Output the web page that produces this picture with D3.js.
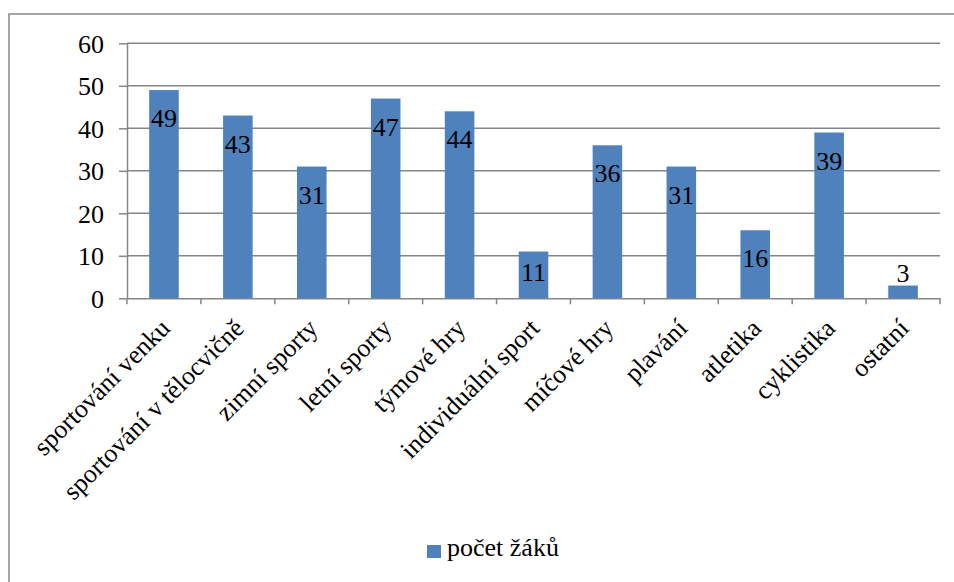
<!DOCTYPE html>
<html><head><meta charset="utf-8">
<script src="https://cdn.jsdelivr.net/npm/d3@7/dist/d3.min.js"></script>
<style>body{margin:0;background:#fff}</style>
</head><body><svg id="c" width="954" height="582"></svg>
<script>
const categories = ["sportování venku","sportování v tělocvičně","zimní sporty","letní sporty","týmové hry","individuální sport","míčové hry","plavání","atletika","cyklistika","ostatní"];
const values = [49,43,31,47,44,11,36,31,16,39,3];
const yTicks = [0,10,20,30,40,50,60];
const seriesName = "počet žáků";

const FONT = '"Liberation Serif", "Times New Roman", Tinos, Times';
// warm up the font (forces the local font to be resolved before drawing)
(function(){
  const cv = document.createElement("canvas").getContext("2d");
  cv.font = '26px "Liberation Serif"';
  cv.measureText("počet žáků 0123 sportování");
})();

function draw(){
const svg = d3.select("#c");
svg.selectAll("*").remove();
const W = 954, H = 582;
const pLeft = 127, pRight = 940, pTop = 43.3, pBottom = 298.3;
const barColor = "#4F81BD", gridColor = "#868686";

svg.append("rect").attr("x",9).attr("y",14).attr("width",W).attr("height",H)
  .attr("fill","none").attr("stroke",gridColor).attr("stroke-width",1.5);

const xb = d3.scaleBand().domain(categories).range([pLeft,pRight]);
const y = d3.scaleLinear().domain([0,60]).range([pBottom,pTop]);

svg.append("g").selectAll("line").data(yTicks.filter(t=>t>0)).join("line")
  .attr("x1",pLeft).attr("x2",pRight).attr("y1",d=>y(d)).attr("y2",d=>y(d))
  .attr("stroke",gridColor).attr("stroke-width",1.5);

const yAx = svg.append("g").attr("transform",`translate(${pLeft},0)`)
  .call(d3.axisLeft(y).tickValues(yTicks).tickSize(8).tickPadding(15).tickSizeOuter(0));
yAx.attr("font-family",FONT).attr("font-size",26);
yAx.select(".domain").attr("stroke",gridColor).attr("stroke-width",1.5);
yAx.selectAll(".tick line").attr("stroke",gridColor).attr("stroke-width",1.5);
yAx.selectAll(".tick text").attr("font-size",26).attr("dy","0.34em").attr("font-family",FONT).attr("fill","#000");

svg.append("g").selectAll("rect").data(values).join("rect")
  .attr("x",(d,i)=>xb(categories[i])+xb.bandwidth()*0.3)
  .attr("width",xb.bandwidth()*0.4)
  .attr("y",d=>y(d)).attr("height",d=>pBottom-y(d))
  .attr("fill",barColor);

const xAx = svg.append("g").attr("transform",`translate(0,${pBottom})`)
  .call(d3.axisBottom(xb).tickSize(0).tickFormat(""));
xAx.select(".domain").attr("stroke",gridColor).attr("stroke-width",1.5);
const tickPos = categories.map(c=>xb(c)).concat([pRight]);
svg.append("g").selectAll("line").data(tickPos).join("line")
  .attr("x1",d=>d).attr("x2",d=>d).attr("y1",pBottom).attr("y2",pBottom+6)
  .attr("stroke",gridColor).attr("stroke-width",1.5);

svg.append("g").attr("font-family",FONT).attr("font-size",26).selectAll("text").data(categories).join("text")
  .attr("text-anchor","end").attr("font-size",26).attr("font-family",FONT).attr("fill","#000")
  .attr("transform",d=>`translate(${xb(d)+xb.bandwidth()/2+1},${pBottom+25}) rotate(-45)`)
  .attr("dy","0.35em")
  .text(d=>d);

svg.append("g").attr("font-family",FONT).selectAll("text").data(values).join("text")
  .attr("text-anchor","middle").attr("font-size",26).attr("font-family",FONT).attr("fill","#000")
  .attr("x",(d,i)=>xb(categories[i])+xb.bandwidth()/2)
  .attr("y",d=>{const h=pBottom-y(d); if(h<30) return y(d)-3.5; return Math.min(y(d)+37, pBottom-17);})
  .text(d=>d);

svg.append("rect").attr("x",427).attr("y",545).attr("width",14).attr("height",13).attr("fill",barColor);
svg.append("text").attr("x",447).attr("y",556).attr("font-size",26).attr("font-family",FONT).attr("fill","#000").text(seriesName);
}
draw();
if (document.fonts && document.fonts.ready) document.fonts.ready.then(draw);
</script></body></html>
